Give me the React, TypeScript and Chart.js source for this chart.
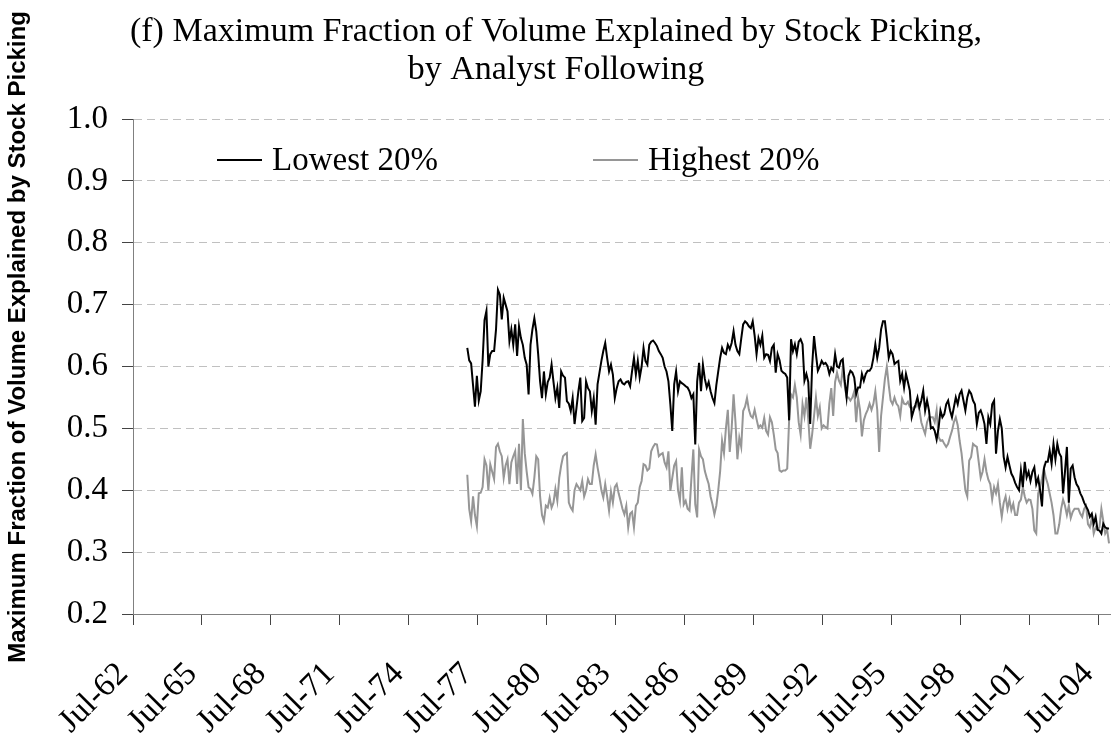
import React, { useEffect, useRef } from "react";
import { Chart, registerables } from "chart.js";

Chart.register(...registerables);

// Axis: monthly categories from Jul-62 to Dec-04 (510 months)
const AXIS_MONTHS = 510;
const TICK_EVERY = 36;
const TICK_LABELS = [
  "Jul-62", "Jul-65", "Jul-68", "Jul-71", "Jul-74", "Jul-77", "Jul-80",
  "Jul-83", "Jul-86", "Jul-89", "Jul-92", "Jul-95", "Jul-98", "Jul-01", "Jul-04",
];
const Y_TICKS = [0.2, 0.3, 0.4, 0.5, 0.6, 0.7, 0.8, 0.9, 1.0];

// Series start at Jan-77 (month index 174 from Jul-62), monthly to Dec-04
const SERIES_START_INDEX = 174;
const SERIES_NAMES = ["Lowest 20%", "Highest 20%"];

const LOWEST_20 = [
  0.63, 0.61, 0.605, 0.57, 0.535, 0.585, 0.545, 0.56, 0.61, 0.675,
  0.69, 0.60, 0.62, 0.625, 0.625, 0.66, 0.724, 0.716, 0.676, 0.711,
  0.70, 0.689, 0.641, 0.66, 0.635, 0.668, 0.617, 0.665, 0.646, 0.635,
  0.614, 0.603, 0.555, 0.635, 0.66, 0.678, 0.657, 0.62, 0.576, 0.549,
  0.592, 0.555, 0.575, 0.582, 0.603, 0.575, 0.549, 0.566, 0.533, 0.592,
  0.585, 0.582, 0.544, 0.540, 0.528, 0.549, 0.507, 0.533, 0.56, 0.582,
  0.512, 0.517, 0.576, 0.565, 0.560, 0.528, 0.549, 0.506, 0.571, 0.59,
  0.609, 0.625, 0.638, 0.614, 0.592, 0.603, 0.587, 0.549, 0.565, 0.576,
  0.579, 0.573, 0.571, 0.575, 0.576, 0.568, 0.592, 0.614, 0.587, 0.609,
  0.582, 0.60, 0.630, 0.609, 0.603, 0.635, 0.64, 0.642, 0.638, 0.633,
  0.625, 0.62, 0.614, 0.60, 0.592, 0.576, 0.539, 0.496, 0.571, 0.592,
  0.560, 0.576, 0.573, 0.571, 0.568, 0.566, 0.560, 0.549, 0.555, 0.474,
  0.576, 0.606, 0.56, 0.603, 0.58, 0.566, 0.575, 0.56, 0.549, 0.541,
  0.57, 0.592, 0.614, 0.630, 0.622, 0.620, 0.635, 0.628, 0.638, 0.657,
  0.635, 0.625, 0.62, 0.645, 0.668, 0.673, 0.670, 0.665, 0.662, 0.673,
  0.65, 0.62, 0.646, 0.635, 0.65, 0.614, 0.62, 0.619, 0.609, 0.63,
  0.635, 0.59, 0.62, 0.61, 0.593, 0.59, 0.588, 0.582, 0.513, 0.644,
  0.625, 0.636, 0.62, 0.64, 0.644, 0.636, 0.577, 0.588, 0.575, 0.507,
  0.60, 0.649, 0.62, 0.593, 0.60, 0.609, 0.604, 0.606, 0.601, 0.588,
  0.598, 0.593, 0.62, 0.60, 0.598, 0.609, 0.612, 0.577, 0.55, 0.585,
  0.593, 0.59, 0.582, 0.555, 0.566, 0.566, 0.588, 0.577, 0.588, 0.593,
  0.593, 0.598, 0.614, 0.636, 0.614, 0.63, 0.66, 0.673, 0.673, 0.646,
  0.614, 0.625, 0.62, 0.604, 0.607, 0.609, 0.577, 0.588, 0.566, 0.588,
  0.575, 0.561, 0.518, 0.529, 0.539, 0.55, 0.534, 0.545, 0.561, 0.529,
  0.545, 0.529, 0.50, 0.502, 0.496, 0.482, 0.50, 0.529, 0.518, 0.523,
  0.539, 0.545, 0.529, 0.518, 0.534, 0.55, 0.539, 0.555, 0.561, 0.545,
  0.529, 0.55, 0.561, 0.556, 0.545, 0.539, 0.507, 0.525, 0.529, 0.52,
  0.507, 0.475, 0.518, 0.507, 0.539, 0.545, 0.459, 0.496, 0.515, 0.50,
  0.454, 0.437, 0.454, 0.44, 0.427, 0.421, 0.412, 0.405, 0.40, 0.432,
  0.405, 0.446, 0.421, 0.43, 0.415, 0.43, 0.437, 0.41, 0.42, 0.40,
  0.374, 0.435, 0.446, 0.446, 0.464, 0.443, 0.475, 0.45, 0.475, 0.46,
  0.454, 0.395, 0.43, 0.47, 0.38, 0.435, 0.44, 0.421, 0.41, 0.405,
  0.395, 0.389, 0.38, 0.374, 0.368, 0.357, 0.362, 0.346, 0.357, 0.336,
  0.335, 0.330, 0.346, 0.34, 0.338, 0.338,
];

const HIGHEST_20 = [
  0.425, 0.37, 0.35, 0.39, 0.36, 0.342, 0.395, 0.396, 0.405, 0.45,
  0.44, 0.40, 0.442, 0.43, 0.418, 0.47, 0.475, 0.463, 0.455, 0.42,
  0.44, 0.45, 0.41, 0.445, 0.455, 0.463, 0.41, 0.475, 0.40, 0.515,
  0.46, 0.43, 0.405, 0.402, 0.394, 0.42, 0.455, 0.45, 0.39, 0.36,
  0.35, 0.375, 0.372, 0.388, 0.372, 0.38, 0.402, 0.383, 0.42, 0.44,
  0.455, 0.458, 0.46, 0.38, 0.372, 0.367, 0.40, 0.41, 0.405, 0.40,
  0.415, 0.39, 0.40, 0.418, 0.41, 0.41, 0.44, 0.458, 0.437, 0.42,
  0.40, 0.388, 0.41, 0.39, 0.367, 0.398, 0.38, 0.405, 0.41, 0.395,
  0.383, 0.37, 0.361, 0.375, 0.34, 0.362, 0.365, 0.34, 0.375, 0.38,
  0.405, 0.415, 0.442, 0.44, 0.432, 0.435, 0.463, 0.47, 0.475, 0.474,
  0.455, 0.458, 0.46, 0.445, 0.437, 0.463, 0.399, 0.42, 0.44, 0.447,
  0.40, 0.383, 0.437, 0.377, 0.383, 0.37, 0.367, 0.42, 0.466, 0.377,
  0.356, 0.466, 0.455, 0.45, 0.431, 0.42, 0.41, 0.39, 0.377, 0.361,
  0.375, 0.40, 0.431, 0.48, 0.46, 0.50, 0.53, 0.462, 0.50, 0.555,
  0.51, 0.45, 0.485, 0.47, 0.528, 0.535, 0.549, 0.53, 0.52, 0.517,
  0.53, 0.515, 0.501, 0.505, 0.501, 0.517, 0.496, 0.49, 0.518, 0.51,
  0.49, 0.466, 0.46, 0.432, 0.43, 0.432, 0.432, 0.435, 0.513, 0.555,
  0.55, 0.57, 0.55, 0.51, 0.49, 0.539, 0.52, 0.55, 0.515, 0.467,
  0.49, 0.52, 0.55, 0.52, 0.534, 0.50, 0.505, 0.502, 0.50, 0.54,
  0.565, 0.52, 0.575, 0.59, 0.577, 0.57, 0.598, 0.57, 0.55, 0.55,
  0.545, 0.55, 0.56, 0.51, 0.55, 0.53, 0.487, 0.513, 0.523, 0.53,
  0.54, 0.53, 0.54, 0.56, 0.53, 0.462, 0.52, 0.55, 0.58, 0.60,
  0.57, 0.545, 0.539, 0.55, 0.54, 0.536, 0.52, 0.548, 0.54, 0.539,
  0.543, 0.535, 0.531, 0.534, 0.534, 0.54, 0.53, 0.51, 0.50, 0.491,
  0.51, 0.518, 0.518, 0.518, 0.51, 0.529, 0.486, 0.48, 0.481, 0.475,
  0.47, 0.475, 0.486, 0.496, 0.51, 0.518, 0.505, 0.48, 0.46, 0.43,
  0.40, 0.39, 0.448, 0.454, 0.475, 0.472, 0.47, 0.445, 0.42, 0.43,
  0.45, 0.43, 0.417, 0.41, 0.385, 0.405, 0.395, 0.41, 0.38, 0.357,
  0.38, 0.39, 0.37, 0.385, 0.368, 0.378, 0.36, 0.36, 0.38, 0.385,
  0.405, 0.39, 0.38, 0.385, 0.384, 0.37, 0.335, 0.33, 0.395, 0.405,
  0.419, 0.435, 0.42, 0.41, 0.395, 0.38, 0.36, 0.33, 0.33, 0.345,
  0.37, 0.385, 0.375, 0.36, 0.375, 0.355, 0.365, 0.37, 0.37, 0.37,
  0.362, 0.357, 0.37, 0.375, 0.345, 0.34, 0.355, 0.33, 0.34, 0.336,
  0.34, 0.37, 0.35, 0.33, 0.336, 0.314,
];

const TITLE_LINES = [
  "(f) Maximum Fraction of Volume Explained by Stock Picking,",
  "by Analyst Following",
];
const Y_TITLE = "Maximum Fraction of Volume Explained by Stock Picking";

const SERIF = '"Liberation Serif", "Times New Roman", serif';
const SANS = '"Liberation Sans", Arial, sans-serif';

const toPoints = (vals: number[]) =>
  vals.map((v, i) => ({ x: SERIES_START_INDEX + i + 0.5, y: v }));

const decorPlugin = {
  id: "decor",
  afterDraw(chart: any) {
    const ctx = chart.ctx;
    ctx.save();
    // Title
    ctx.fillStyle = "#000";
    ctx.font = `34px ${SERIF}`;
    ctx.textAlign = "center";
    ctx.textBaseline = "middle";
    ctx.fillText(TITLE_LINES[0], 556, 32);
    ctx.fillText(TITLE_LINES[1], 556, 70);
    // Y-axis title
    ctx.save();
    ctx.translate(18, 337);
    ctx.rotate(-Math.PI / 2);
    ctx.font = `bold 24px ${SANS}`;
    ctx.fillText(Y_TITLE, 0, 0);
    ctx.restore();
    // Legend
    const items = [
      { x: 217, color: chart.data.datasets[0].borderColor, label: chart.data.datasets[0].label },
      { x: 593, color: chart.data.datasets[1].borderColor, label: chart.data.datasets[1].label },
    ];
    const ly = 160;
    ctx.font = `33px ${SERIF}`;
    ctx.textAlign = "left";
    items.forEach((it) => {
      ctx.strokeStyle = it.color;
      ctx.lineWidth = 2;
      ctx.beginPath();
      ctx.moveTo(it.x, ly);
      ctx.lineTo(it.x + 45, ly);
      ctx.stroke();
      ctx.fillStyle = "#000";
      ctx.fillText(it.label, it.x + 55, ly + 1);
    });
    ctx.restore();
  },
};

export default function App() {
  const ref = useRef<HTMLCanvasElement | null>(null);
  useEffect(() => {
    if (!ref.current) return;
    const chart = new Chart(ref.current, {
      type: "line",
      data: {
        datasets: [
          {
            label: SERIES_NAMES[0],
            data: toPoints(LOWEST_20),
            borderColor: "#000000",
            borderWidth: 2,
            pointRadius: 0,
            tension: 0,
          },
          {
            label: SERIES_NAMES[1],
            data: toPoints(HIGHEST_20),
            borderColor: "#969696",
            borderWidth: 2,
            pointRadius: 0,
            tension: 0,
          },
        ],
      },
      options: {
        responsive: false,
        animation: false,
        devicePixelRatio: 1,
        layout: { padding: { top: 119, right: 1, left: 0, bottom: 0 } },
        plugins: {
          legend: { display: false },
          title: { display: false },
          tooltip: { enabled: false },
        },
        scales: {
          x: {
            type: "linear",
            min: 0,
            max: AXIS_MONTHS,
            afterBuildTicks: (scale: any) => {
              scale.ticks = TICK_LABELS.map((_, i) => ({ value: i * TICK_EVERY }));
            },
            afterFit: (scale: any) => {
              scale.height = 126;
              scale.paddingLeft = 0;
              scale.paddingRight = 0;
            },
            ticks: {
              autoSkip: false,
              minRotation: 45,
              maxRotation: 45,
              padding: 30,
              labelOffset: -10,
              color: "#000",
              font: { family: SERIF, size: 33 },
              callback: (v: any) => TICK_LABELS[Math.round(Number(v) / TICK_EVERY)] ?? "",
            },
            grid: {
              drawOnChartArea: false,
              drawTicks: true,
              tickLength: 11,
              tickColor: "#444",
              tickWidth: 1,
            },
            border: { display: true, color: "#808080", width: 1 },
          },
          y: {
            min: 0.2,
            max: 1.0,
            afterBuildTicks: (scale: any) => {
              scale.ticks = Y_TICKS.map((v) => ({ value: v }));
            },
            afterFit: (scale: any) => {
              scale.width = 133;
            },
            ticks: {
              padding: 14,
              color: "#000",
              font: { family: SERIF, size: 33 },
              callback: (v: any) => Number(v).toFixed(1),
            },
            grid: {
              color: "#c0c0c0",
              lineWidth: 1,
              drawTicks: true,
              tickLength: 11,
              tickColor: "#444",
              tickWidth: 1,
            },
            border: { display: true, color: "#808080", width: 1, dash: [8, 5] },
          },
        },
      },
      plugins: [decorPlugin],
    } as any);
    return () => chart.destroy();
  }, []);
  return (
    <div style={{ position: "absolute", left: 0, top: 0, width: 1111, height: 740, background: "#fff" }}>
      <canvas ref={ref} width={1111} height={740} style={{ display: "block" }} />
    </div>
  );
}
